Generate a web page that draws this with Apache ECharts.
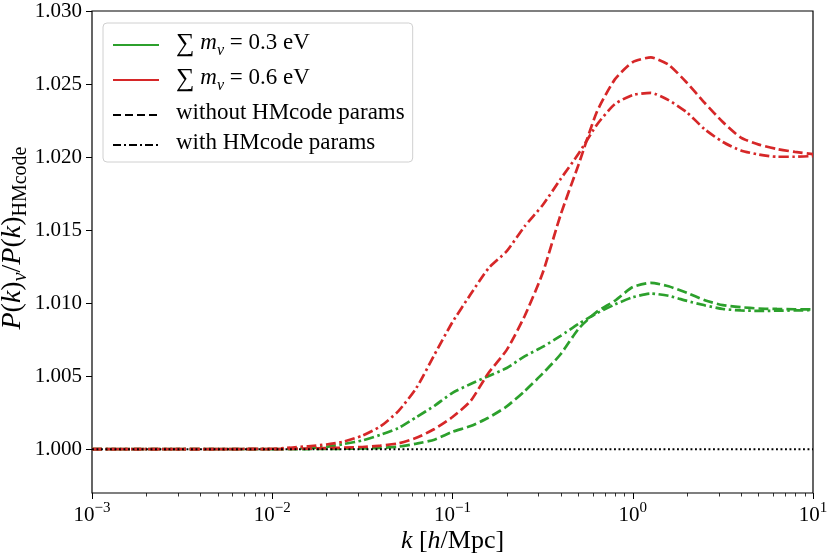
<!DOCTYPE html>
<html>
<head>
<meta charset="utf-8">
<script src="https://cdn.jsdelivr.net/npm/echarts@6/dist/echarts.min.js"></script>
<style>
  html, body { margin: 0; padding: 0; background: #fff; }
  #main { width: 830px; height: 554px; }
</style>
</head>
<body>
<div id="main"></div>
<script>
// k values [h/Mpc], shared by all curves
var kVals = [0.001, 0.00316, 0.01, 0.0126, 0.0158, 0.02, 0.0251, 0.0316, 0.0398, 0.0501,
  0.0631, 0.0794, 0.1, 0.126, 0.158, 0.2, 0.251, 0.316, 0.398, 0.501, 0.631, 0.794,
  1.0, 1.26, 1.58, 2.0, 2.51, 3.16, 3.98, 5.01, 6.31, 7.94, 10];

// sum m_nu = 0.6 eV
var redWith = [1.0000, 1.0000, 1.00003, 1.0001, 1.0002, 1.00032, 1.00053, 1.00093, 1.00156, 1.00261,
  1.0042, 1.00647, 1.0087, 1.0106, 1.01237, 1.01356, 1.01525, 1.0167, 1.0185, 1.02024, 1.0222, 1.02362,
  1.02425, 1.0244, 1.0239, 1.02305, 1.0219, 1.02103, 1.02045, 1.02017, 1.02002, 1.02002, 1.02007];
var redWithout = [1.0000, 1.0000, 1.0000, 1.00002, 1.00004, 1.00007, 1.0001, 1.00015, 1.00024, 1.0004,
  1.00078, 1.00138, 1.0022, 1.0033, 1.0052, 1.0068, 1.0091, 1.01204, 1.01605, 1.0195, 1.02307, 1.0253,
  1.0265, 1.02682, 1.02632, 1.02508, 1.0237, 1.0224, 1.02133, 1.02085, 1.02055, 1.02035, 1.0202];

// sum m_nu = 0.3 eV
var greenWith = [1.0000, 1.0000, 1.0000, 1.00003, 1.00008, 1.00016, 1.00036, 1.0006, 1.00098, 1.00145,
  1.0022, 1.00297, 1.00386, 1.00446, 1.005, 1.00556, 1.00635, 1.007, 1.00776, 1.00858, 1.0093, 1.0099,
  1.0104, 1.01066, 1.0105, 1.01015, 1.00985, 1.0096, 1.0095, 1.00947, 1.00948, 1.0095, 1.00952];
var greenWithout = [1.0000, 1.0000, 1.0000, 1.0000, 1.00001, 1.00002, 1.00003, 1.00005, 1.00008, 1.00017,
  1.00038, 1.00065, 1.00119, 1.00158, 1.00215, 1.00293, 1.00397, 1.00517, 1.0065, 1.00825, 1.0094, 1.01015,
  1.0111, 1.01139, 1.01115, 1.0107, 1.0102, 1.00986, 1.00972, 1.00963, 1.0096, 1.00958, 1.00957];

var xMajorTicks = [0.001, 0.01, 0.1, 1, 10];
var xMinorTicks = [0.002, 0.003, 0.004, 0.005, 0.006, 0.007, 0.008, 0.009,
  0.02, 0.03, 0.04, 0.05, 0.06, 0.07, 0.08, 0.09,
  0.2, 0.3, 0.4, 0.5, 0.6, 0.7, 0.8, 0.9,
  2, 3, 4, 5, 6, 7, 8, 9];
var yTicks = [1.000, 1.005, 1.010, 1.015, 1.020, 1.025, 1.030];
var refLine = [[0.001, 1.0], [10, 1.0]];

var GREEN = '#2ca02c', RED = '#d62728';
var FONT = 'Liberation Serif';
var DASH = [10, 4];
var DASHDOT = [10, 3.5, 2.5, 3.5];

function pairs(ys) {
  return kVals.map(function (k, i) { return [k, ys[i]]; });
}

var legendNames = ['m03', 'm06', 'without', 'with'];
var legendText = {
  m03: '{s|∑}{r| }{i|m}{sub|ν}{r| = 0.3 eV}',
  m06: '{s|∑}{r| }{i|m}{sub|ν}{r| = 0.6 eV}',
  without: '{r|without HMcode params}',
  'with': '{r|with HMcode params}'
};

var myChart = echarts.init(document.getElementById('main'));

var option = {
  backgroundColor: '#fff',
  animation: false,
  grid: {
    left: 92, right: 17, top: 11, bottom: 61,
    containLabel: false, outerBoundsMode: 'none',
    show: true, borderColor: '#000', borderWidth: 1.2
  },
  legend: {
    data: legendNames,
    orient: 'vertical',
    left: 103, top: 23,
    itemWidth: 46, itemHeight: 14, itemGap: 7,
    padding: [8, 8, 8, 9],
    backgroundColor: '#fff',
    borderColor: '#d0d0d0', borderWidth: 1, borderRadius: 4,
    itemStyle: { opacity: 0 },
    formatter: function (name) { return legendText[name]; },
    textStyle: {
      fontFamily: FONT, fontSize: 23, color: '#000', padding: [0, 0, 0, 12],
      rich: {
        s: { fontFamily: FONT, fontSize: 26, color: '#000', lineHeight: 28, verticalAlign: 'top' },
        r: { fontFamily: FONT, fontSize: 23, color: '#000', lineHeight: 28, verticalAlign: 'top' },
        i: { fontFamily: FONT, fontSize: 23, fontStyle: 'italic', color: '#000', lineHeight: 28, verticalAlign: 'top' },
        sub: { fontFamily: FONT, fontSize: 16, fontStyle: 'italic', color: '#000', lineHeight: 16, verticalAlign: 'bottom' }
      }
    }
  },
  xAxis: [{
    type: 'log', logBase: 10, min: 0.001, max: 10,
    name: '{i|k}{r| [}{i|h}{r|/Mpc]}',
    nameLocation: 'middle', nameGap: 35, nameMoveOverlap: false,
    nameTextStyle: {
      rich: {
        i: { fontFamily: FONT, fontSize: 26, fontStyle: 'italic', color: '#000' },
        r: { fontFamily: FONT, fontSize: 26, color: '#000' }
      }
    },
    axisLine: { show: false },
    splitLine: { show: false },
    axisTick: { customValues: xMajorTicks, length: 6, lineStyle: { color: '#000', width: 1 } },
    axisLabel: {
      customValues: xMajorTicks, margin: 8,
      formatter: function (v) {
        var e = Math.round(Math.log10(v));
        return '{b|10}{s|' + (e < 0 ? '\u2212' + (-e) : e) + '}';
      },
      rich: {
        b: { fontFamily: FONT, fontSize: 21, color: '#000', verticalAlign: 'bottom' },
        s: { fontFamily: FONT, fontSize: 15, color: '#000', verticalAlign: 'bottom', padding: [0, 0, 10, 0] }
      }
    }
  }, {
    type: 'log', logBase: 10, min: 0.001, max: 10, position: 'bottom',
    axisLine: { show: false },
    splitLine: { show: false },
    axisLabel: { show: false },
    axisTick: { customValues: xMinorTicks, length: 3.5, lineStyle: { color: '#000', width: 0.8 } }
  }],
  yAxis: {
    type: 'value', min: 0.997, max: 1.030,
    name: '{gap| }{i|P}{r|(}{i|k}{r|)}{sub|ν}{r|/}{i|P}{r|(}{i|k}{r|)}{subr|HMcode}',
    nameLocation: 'middle', nameRotate: 90, nameGap: 61, nameMoveOverlap: false,
    nameTextStyle: {
      rich: {
        gap: { width: 28, fontSize: 10, lineHeight: 32, verticalAlign: 'top' },
        i: { fontFamily: FONT, fontSize: 28, fontStyle: 'italic', color: '#000', lineHeight: 32, verticalAlign: 'top' },
        r: { fontFamily: FONT, fontSize: 28, color: '#000', lineHeight: 32, verticalAlign: 'top' },
        sub: { fontFamily: FONT, fontSize: 20, fontStyle: 'italic', color: '#000', lineHeight: 20, verticalAlign: 'bottom' },
        subr: { fontFamily: FONT, fontSize: 20, color: '#000', lineHeight: 20, verticalAlign: 'bottom' }
      }
    },
    axisLine: { show: false },
    splitLine: { show: false },
    axisTick: { customValues: yTicks, length: 6, lineStyle: { color: '#000', width: 1 } },
    axisLabel: {
      customValues: yTicks, margin: 10,
      fontFamily: FONT, fontSize: 21, color: '#000',
      formatter: function (v) { return v.toFixed(3); }
    }
  },
  series: [
    // legend-only entries
    { name: 'm03', type: 'line', data: [], symbol: 'none', showSymbol: false, color: GREEN, lineStyle: { color: GREEN, width: 2 } },
    { name: 'm06', type: 'line', data: [], symbol: 'none', showSymbol: false, color: RED, lineStyle: { color: RED, width: 2 } },
    { name: 'without', type: 'line', data: [], symbol: 'none', showSymbol: false, color: '#000', lineStyle: { color: '#000', width: 2, type: [8, 4] } },
    { name: 'with', type: 'line', data: [], symbol: 'none', showSymbol: false, color: '#000', lineStyle: { color: '#000', width: 2, type: [8, 3, 2, 3] } },
    // curves
    { name: 'g-without', type: 'line', data: pairs(greenWithout), symbol: 'none', smooth: 0.2,
      lineStyle: { color: GREEN, width: 2.7, type: DASH } },
    { name: 'g-with', type: 'line', data: pairs(greenWith), symbol: 'none', smooth: 0.2,
      lineStyle: { color: GREEN, width: 2.7, type: DASHDOT } },
    { name: 'r-without', type: 'line', data: pairs(redWithout), symbol: 'none', smooth: 0.2,
      lineStyle: { color: RED, width: 2.7, type: DASH } },
    { name: 'r-with', type: 'line', data: pairs(redWith), symbol: 'none', smooth: 0.2,
      lineStyle: { color: RED, width: 2.7, type: DASHDOT } },
    { name: 'ref', type: 'line', data: refLine, symbol: 'none', z: 3,
      lineStyle: { color: '#000', width: 1.9, type: [1.9, 2.6] } }
  ]
};

myChart.setOption(option);
</script>
</body>
</html>
